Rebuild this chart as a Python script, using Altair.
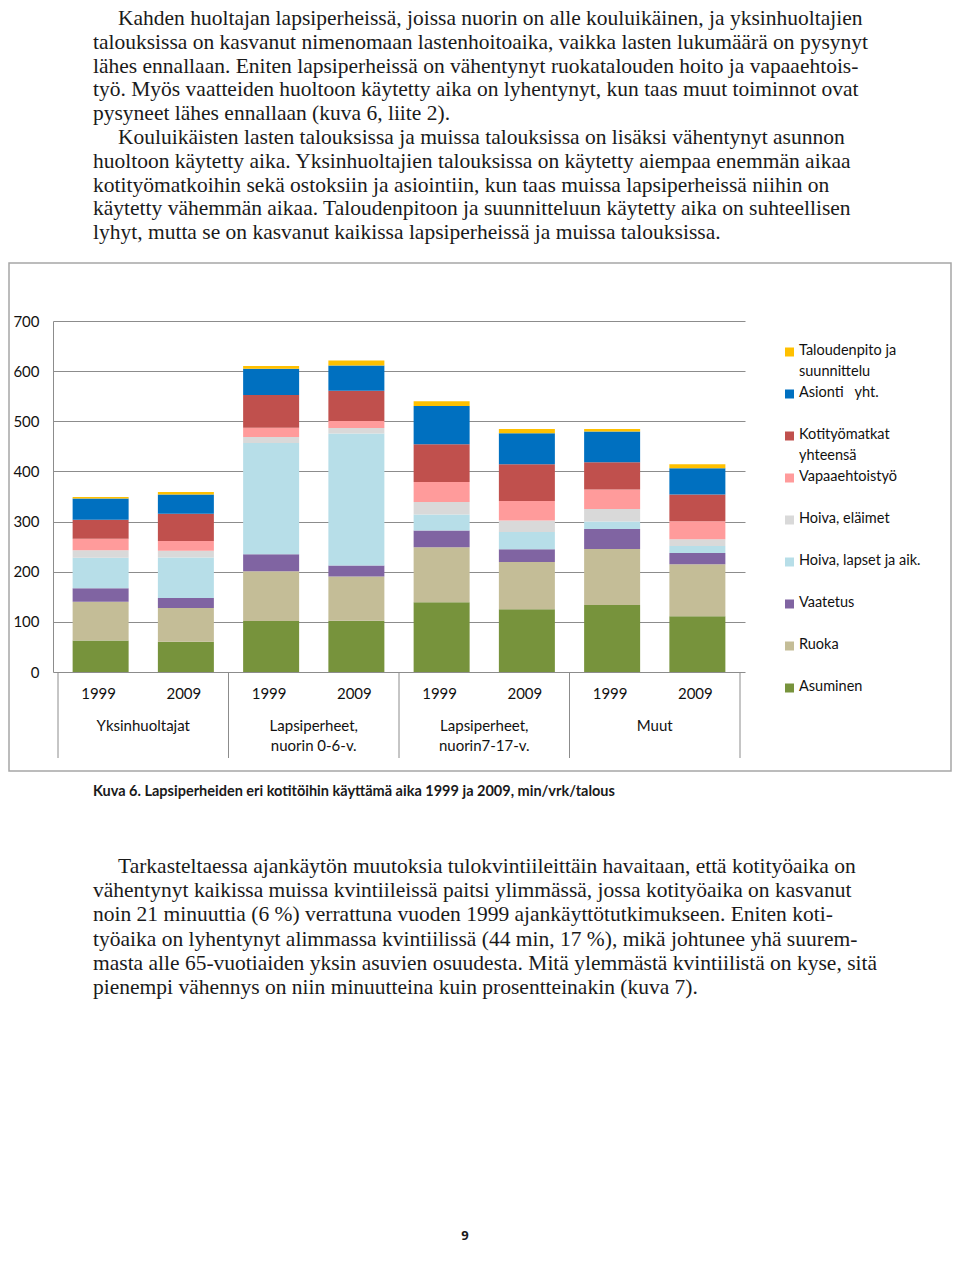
import altair as alt
import pandas as pd

# ---------------- data ----------------
series = ["Asuminen", "Ruoka", "Vaatetus", "Hoiva, lapset ja aik.", "Hoiva, eläimet",
          "Vapaaehtoistyö", "Kotityömatkat yhteensä", "Asionti yht.", "Taloudenpito ja suunnittelu"]
legend_labels = ["Asuminen", "Ruoka", "Vaatetus", "Hoiva, lapset ja aik.", "Hoiva, eläimet",
                 "Vapaaehtoistyö", "Kotityömatkat\nyhteensä", "Asionti\u00a0\u00a0 yht.",
                 "Taloudenpito ja\nsuunnittelu"]
colors = ["#77933C", "#C4BD97", "#8064A2", "#B7DEE8", "#D9D9D9",
          "#FF9B9B", "#C0504D", "#0070C0", "#FFC000"]

groups = ["Yksinhuoltajat", "Lapsiperheet,\nnuorin 0-6-v.", "Lapsiperheet,\nnuorin7-17-v.", "Muut"]
years = ["1999", "2009"]

# values per bar: Yks 1999, Yks 2009, 0-6 1999, 0-6 2009, 7-17 1999, 7-17 2009, Muut 1999, Muut 2009
asuminen      = [63.0, 60.5, 101.7, 102.4, 139.0, 125.0, 133.6, 111.0]
ruoka         = [77.0, 67.0, 99.0, 88.0, 110.0, 94.4, 111.7, 103.8]
vaatetus      = [27.0, 20.0, 34.0, 22.0, 33.0, 25.3, 40.0, 22.6]
hoiva_lapset  = [61.0, 81.0, 222.0, 263.0, 32.0, 34.6, 14.6, 14.0]
hoiva_elaimet = [15.0, 13.3, 12.0, 11.3, 25.0, 22.6, 25.3, 13.3]
vapaaehtois   = [22.6, 19.3, 18.6, 14.0, 40.0, 39.2, 38.6, 36.0]
kotityomatkat = [38.0, 54.5, 65.0, 60.0, 75.0, 73.0, 54.5, 53.2]
asiointi      = [42.5, 38.6, 52.5, 50.5, 76.5, 62.0, 61.2, 52.5]
taloudenpito  = [2.7, 4.6, 5.3, 10.0, 9.3, 8.6, 5.3, 8.0]
y_ticks = [0, 100, 200, 300, 400, 500, 600, 700]

para1 = [
    "Kahden huoltajan lapsiperheissä, joissa nuorin on alle kouluikäinen, ja yksinhuoltajien",
    "talouksissa on kasvanut nimenomaan lastenhoitoaika, vaikka lasten lukumäärä on pysynyt",
    "lähes ennallaan. Eniten lapsiperheissä on vähentynyt ruokatalouden hoito ja vapaaehtois-",
    "työ. Myös vaatteiden huoltoon käytetty aika on lyhentynyt, kun taas muut toiminnot ovat",
    "pysyneet lähes ennallaan (kuva 6, liite 2).",
]
para2 = [
    "Kouluikäisten lasten talouksissa ja muissa talouksissa on lisäksi vähentynyt asunnon",
    "huoltoon käytetty aika. Yksinhuoltajien talouksissa on käytetty aiempaa enemmän aikaa",
    "kotityömatkoihin sekä ostoksiin ja asiointiin, kun taas muissa lapsiperheissä niihin on",
    "käytetty vähemmän aikaa. Taloudenpitoon ja suunnitteluun käytetty aika on suhteellisen",
    "lyhyt, mutta se on kasvanut kaikissa lapsiperheissä ja muissa talouksissa.",
]
para3 = [
    "Tarkasteltaessa ajankäytön muutoksia tulokvintiileittäin havaitaan, että kotityöaika on",
    "vähentynyt kaikissa muissa kvintiileissä paitsi ylimmässä, jossa kotityöaika on kasvanut",
    "noin 21 minuuttia (6 %) verrattuna vuoden 1999 ajankäyttötutkimukseen. Eniten koti-",
    "työaika on lyhentynyt alimmassa kvintiilissä (44 min, 17 %), mikä johtunee yhä suurem-",
    "masta alle 65-vuotiaiden yksin asuvien osuudesta. Mitä ylemmästä kvintiilistä on kyse, sitä",
    "pienempi vähennys on niin minuutteina kuin prosentteinakin (kuva 7).",
]
caption = "Kuva 6. Lapsiperheiden eri kotitöihin käyttämä aika 1999 ja 2009, min/vrk/talous"
page_no = "9"

# ---------------- tables ----------------
all_vals = [asuminen, ruoka, vaatetus, hoiva_lapset, hoiva_elaimet,
            vapaaehtois, kotityomatkat, asiointi, taloudenpito]
bars = []
for s_i, (s, vals) in enumerate(zip(series, all_vals)):
    for b, v in enumerate(vals):
        bars.append({"pos": b + 0.5, "series": s, "order": s_i, "value": v})
df_bars = pd.DataFrame(bars)

df_years = pd.DataFrame([{"pos": g * 2 + k + 0.5, "year": y}
                         for g in range(len(groups)) for k, y in enumerate(years)])
df_groups = pd.DataFrame([{"pos": g * 2 + 1, "label": lab} for g, lab in enumerate(groups)])
df_sep = pd.DataFrame([{"b": g * 2} for g in range(len(groups) + 1)])
df_leg = pd.DataFrame({"series": series, "label": legend_labels})
legend_order = list(reversed(series))

GRAY = "#8c8c8c"
FONT = "Lato"
INK = "#1a1a1a"
xscale = alt.Scale(domain=[0, 8], nice=False, zero=False)
cscale = alt.Scale(domain=series, range=colors)

frame = alt.Chart(alt.Data(values=[{}])).mark_rect(
    fillOpacity=0, stroke="#a6a6a6", strokeWidth=1.5
).encode(x=alt.value(-44), x2=alt.value(898), y=alt.value(-58), y2=alt.value(450))

bar_layer = alt.Chart(df_bars).mark_bar(size=56).encode(
    x=alt.X("pos:Q", scale=xscale, axis=None),
    y=alt.Y("value:Q", stack="zero", scale=alt.Scale(domain=[0, 700], nice=False),
            axis=alt.Axis(values=y_ticks, grid=True, gridColor=GRAY, gridWidth=1,
                          domain=True, domainColor=GRAY, domainWidth=1, ticks=False,
                          labelPadding=14, labelFont=FONT, labelFontSize=15,
                          labelColor="#111111", title=None)),
    color=alt.Color("series:N", scale=cscale, legend=None),
    order=alt.Order("order:Q"),
)

year_layer = alt.Chart(df_years).mark_text(
    font=FONT, fontSize=15, color="#111111", baseline="middle", dx=-2
).encode(x=alt.X("pos:Q", scale=xscale, axis=None), y=alt.value(373), text="year:N")

group_layer = alt.Chart(df_groups).mark_text(
    font=FONT, fontSize=15, color="#111111", baseline="top", lineBreak="\n", lineHeight=20
).encode(x=alt.X("pos:Q", scale=xscale, axis=None), y=alt.value(398), text="label:N")

sep_layer = alt.Chart(df_sep).mark_rule(color=GRAY, strokeWidth=1).encode(
    x=alt.X("b:Q", scale=xscale, axis=None), y=alt.value(351), y2=alt.value(437)
)

leg_y = alt.Y("series:N", scale=alt.Scale(type="point", domain=legend_order,
                                          range=[31, 367], padding=0), axis=None)
leg_sq = alt.Chart(df_leg).mark_square(size=81, opacity=1).encode(
    x=alt.value(736.5), y=leg_y, color=alt.Color("series:N", scale=cscale, legend=None)
)
leg_tx = alt.Chart(df_leg).mark_text(
    font=FONT, fontSize=14.5, color="#111111", align="left", baseline="top",
    lineBreak="\n", lineHeight=21, dy=-8
).encode(x=alt.value(746), y=leg_y, text="label:N")

SERIF = "Liberation Serif"
FS = 21.5


def text_block(lines, x, y, lh):
    return alt.Chart(alt.Data(values=[{"t": "\n".join(lines)}])).mark_text(
        font=SERIF, fontSize=FS, color=INK, align="left", baseline="alphabetic",
        lineBreak="\n", lineHeight=lh
    ).encode(x=alt.value(x), y=alt.value(y), text="t:N")


LH_TOP = 23.8
b0 = -296.0  # baseline of first line, view coords
blocks = [
    text_block(para1[:1], 65, b0, LH_TOP),
    text_block(para1[1:], 40, b0 + LH_TOP, LH_TOP),
    text_block(para2[:1], 65, b0 + 5 * LH_TOP, LH_TOP),
    text_block(para2[1:], 40, b0 + 6 * LH_TOP, LH_TOP),
    text_block(para3[:1], 65, 551.5, 24.4),
    text_block(para3[1:], 40, 551.5 + 24.4, 24.4),
]

cap_text = alt.Chart(alt.Data(values=[{"t": caption}])).mark_text(
    font="Lato", fontSize=14.5, fontWeight="bold", color=INK, align="left", baseline="middle"
).encode(x=alt.value(40), y=alt.value(471), text="t:N")

page_text = alt.Chart(alt.Data(values=[{"t": page_no}])).mark_text(
    font="Open Sans", fontSize=13, fontWeight="bold", color=INK,
    align="center", baseline="middle"
).encode(x=alt.value(412), y=alt.value(915), text="t:N")

chart = alt.layer(
    frame, bar_layer, year_layer, group_layer, sep_layer, leg_sq, leg_tx,
    *blocks, cap_text, page_text
).resolve_scale(y="independent").properties(
    width=692, height=351,
    autosize=alt.AutoSizeParams(type="none"),
    padding={"left": 45, "top": 313, "right": 207, "bottom": 574},
    background="white",
).configure_view(strokeWidth=0)

chart.save("out.html", embed_options={"renderer": "svg", "actions": False})
